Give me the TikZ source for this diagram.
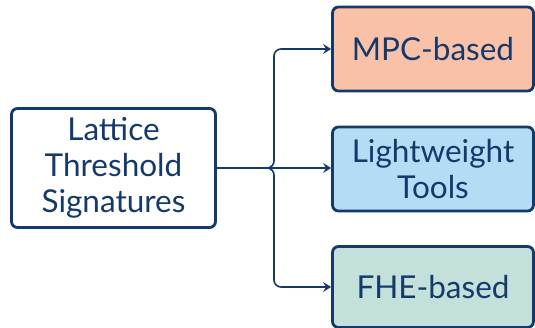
\documentclass[tikz,border=0pt]{standalone}
\usepackage{fontspec}
\setmainfont{Lato}
\usetikzlibrary{arrows.meta}
\definecolor{navy}{HTML}{14396B}
\definecolor{mpc}{HTML}{F8C1A8}
\definecolor{light}{HTML}{B4DDF5}
\definecolor{fhe}{HTML}{C4E0DA}
\tikzset{
  box/.style={draw=navy, line width=2.8pt, rounded corners=6pt, text=navy, align=center,
    font=\fontsize{31.5}{36}\selectfont, inner sep=0pt},
  conn/.style={draw=navy, line width=1.6pt, -{Stealth[length=8pt,width=10pt,inset=3pt]}, rounded corners=7pt}
}
\begin{document}
\begin{tikzpicture}[x=1pt,y=-1pt]
\useasboundingbox (0,0) rectangle (535,328);
\node[box, minimum width=204pt, minimum height=119pt] (L) at (113.5,168) {Lattice\\Threshold\\Signatures};
\node[box, fill=mpc, minimum width=201pt, minimum height=84pt] (M) at (433,49) {MPC-based};
\node[box, fill=light, minimum width=201pt, minimum height=84pt] (W) at (433,169) {Lightweight\\Tools};
\node[box, fill=fhe, minimum width=201pt, minimum height=81pt] (F) at (433,287) {FHE-based};
\coordinate (J) at (274,168);
\draw[conn] (L.east) -- (J) |- (M.west);
\draw[conn] (L.east) -- (W.west |- L.east);
\draw[conn] (L.east) -- (J) |- (F.west);
\end{tikzpicture}
\end{document}
